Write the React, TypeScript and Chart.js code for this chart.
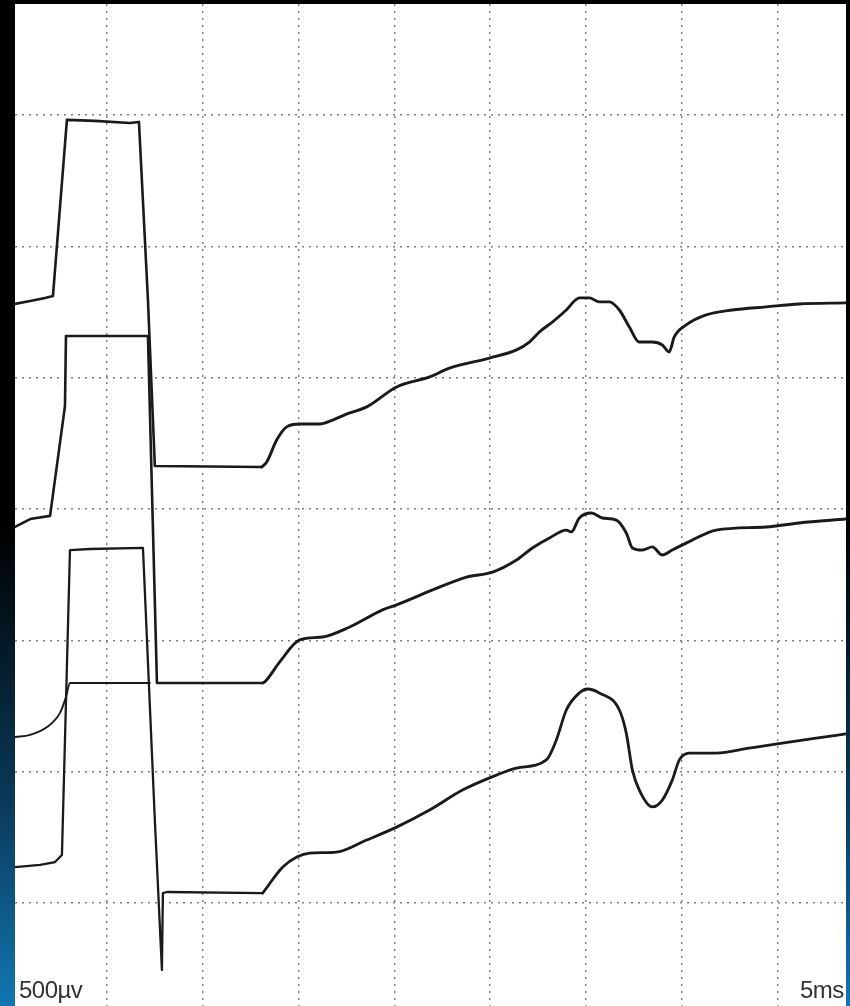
import React, { useEffect, useRef } from "react";
import { Chart, registerables } from "chart.js";

Chart.register(...registerables);

// Time in ms (5 ms per division), amplitude in µV (500 µV per division)
const t1X = [0.2, 0.99, 1.77, 2.18, 2.91, 4.37, 6.2, 6.67, 7.14, 7.5, 13.08, 13.34, 13.86, 14.38, 15.06, 16.11, 16.78, 17.67, 18.56, 20.12, 21.84, 22.88, 24.97, 26.38, 27.05, 27.57, 28.25, 28.98, 29.66, 30.18, 30.7, 31.23, 31.75, 32.27, 32.79, 33.47, 33.99, 34.35, 34.61, 35.24, 36.28, 37.64, 39.41, 41.13, 43.58];
const t1Y = [2281, 2292, 2304, 2311, 2982, 2978, 2970, 2974, 2296, 1664, 1660, 1679, 1763, 1813, 1824, 1824, 1839, 1866, 1889, 1965, 2003, 2037, 2075, 2106, 2136, 2174, 2212, 2258, 2304, 2304, 2289, 2289, 2258, 2193, 2136, 2136, 2125, 2098, 2155, 2201, 2239, 2258, 2270, 2281, 2285];

const t2X = [0.2, 0.99, 2.03, 2.81, 2.86, 7.14, 7.61, 13.13, 13.24, 14.02, 15.06, 16.26, 17.67, 19.39, 20.12, 22.0, 23.77, 25.13, 26.38, 27.21, 28.1, 28.98, 29.24, 29.66, 30.29, 30.86, 31.59, 32.11, 32.43, 32.95, 33.47, 33.99, 34.51, 35.55, 36.8, 39.41, 41.13, 43.58];
const t2Y = [1432, 1462, 1474, 1893, 2159, 2159, 838, 838, 842, 918, 1002, 1013, 1051, 1116, 1135, 1192, 1241, 1260, 1306, 1352, 1390, 1420, 1413, 1466, 1485, 1466, 1458, 1409, 1352, 1344, 1356, 1325, 1344, 1382, 1420, 1432, 1447, 1462];

const t3X = [0.2, 0.99, 1.87, 2.55, 2.86, 3.07, 7.24];
const t3Y = [632, 640, 670, 724, 784, 838, 838];

const t4X = [0.2, 1.51, 2.29, 2.65, 3.07, 4.11, 6.88, 7.5, 7.87, 7.92, 8.13, 13.13, 14.18, 14.91, 15.58, 16.99, 18.56, 20.12, 21.84, 23.56, 25.33, 26.38, 27.94, 28.46, 28.98, 29.66, 30.08, 30.7, 31.75, 32.11, 32.43, 32.79, 33.47, 33.99, 34.51, 34.88, 35.4, 36.8, 38.52, 40.25, 42.02, 43.58];
const t4Y = [137, 145, 156, 183, 1344, 1348, 1352, 316, -255, 38, 42, 38, 137, 175, 190, 194, 240, 289, 354, 430, 487, 514, 545, 621, 735, 800, 815, 800, 735, 647, 506, 430, 366, 392, 468, 545, 571, 571, 590, 609, 628, 644];

// Stimulus artefact drawn with straight segments up to this time; response after it is smoothed
const stimEndMs = 13.15;

// Axis ranges and grid divisions
const xMin = 0.2;
const xMax = 43.58;
const yMin = -392;
const yMax = 3423;
const xGridTicks = [5, 10, 15, 20, 25, 30, 35, 40];
const yGridTicks = [0, 500, 1000, 1500, 2000, 2500, 3000];

const amplitudeLabel = "500µv";
const timeLabel = "5ms";

const toPoints = (xs: number[], ys: number[]) => xs.map((x, i) => ({ x, y: ys[i] }));

export default function App() {
  const ref = useRef<HTMLCanvasElement | null>(null);

  useEffect(() => {
    if (!ref.current) return;
    const mk = (pts: { x: number; y: number }[], w: number, smooth: boolean) => ({
      data: pts,
      showLine: true,
      borderColor: "#1a1a1a",
      borderWidth: w,
      pointRadius: 0,
      tension: 0,
      cubicInterpolationMode: smooth ? ("monotone" as const) : ("default" as const),
      fill: false,
      borderJoinStyle: "round" as const,
      borderCapStyle: "round" as const,
    });
    const split = (xs: number[], ys: number[], w: number, ws: number) => {
      const pts = toPoints(xs, ys);
      return [
        mk(pts.filter((p) => p.x <= stimEndMs), ws, false),
        mk(pts.filter((p) => p.x >= stimEndMs - 0.1), w, true),
      ];
    };
    const gridOpts = { color: "#7e7e7e", lineWidth: 1.4, drawTicks: false };
    const chart = new Chart(ref.current, {
      type: "scatter",
      data: {
        datasets: [
          ...split(t1X, t1Y, 2.9, 2.6),
          ...split(t2X, t2Y, 2.9, 2.6),
          mk(toPoints(t3X, t3Y), 1.9, true),
          ...split(t4X, t4Y, 2.8, 2.3),
        ],
      },
      options: {
        animation: false,
        responsive: false,
        maintainAspectRatio: false,
        layout: { padding: 0 },
        plugins: { legend: { display: false }, tooltip: { enabled: false }, title: { display: false } },
        scales: {
          x: {
            type: "linear",
            min: xMin,
            max: xMax,
            afterBuildTicks: (scale: any) => {
              scale.ticks = xGridTicks.map((v) => ({ value: v }));
            },
            ticks: { display: false },
            grid: gridOpts,
            border: { display: false, dash: [2, 5] },
          },
          y: {
            type: "linear",
            min: yMin,
            max: yMax,
            afterBuildTicks: (scale: any) => {
              scale.ticks = yGridTicks.map((v) => ({ value: v }));
            },
            ticks: { display: false },
            grid: gridOpts,
            border: { display: false, dash: [2, 5] },
          },
        },
      },
    });
    return () => chart.destroy();
  }, []);

  const labelStyle: React.CSSProperties = {
    position: "absolute",
    top: 976,
    fontFamily: "'Liberation Sans', Arial, sans-serif",
    fontSize: 24,
    color: "#333",
    lineHeight: "28px",
    letterSpacing: -0.5,
  };

  return (
    <div
      style={{
        position: "absolute",
        left: 0,
        top: 0,
        width: 850,
        height: 1006,
        overflow: "hidden",
        background: "linear-gradient(to bottom, #000 0%, #000 52%, #0a3a5a 80%, #1276b2 100%)",
      }}
    >
      <canvas
        ref={ref}
        width={831}
        height={1002}
        style={{ position: "absolute", left: 15, top: 4, width: 831, height: 1002, background: "#fff" }}
      />
      <div style={{ ...labelStyle, left: 19 }}>{amplitudeLabel}</div>
      <div style={{ ...labelStyle, left: 800 }}>{timeLabel}</div>
    </div>
  );
}
